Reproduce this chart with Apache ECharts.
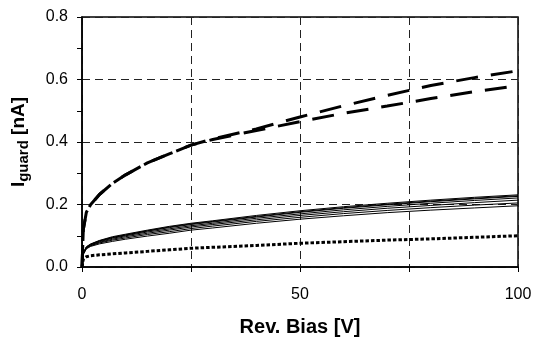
<!DOCTYPE html>
<html>
<head>
<meta charset="utf-8">
<script src="https://cdn.jsdelivr.net/npm/echarts@6/dist/echarts.min.js"></script>
<style>html,body{margin:0;padding:0;background:#fff;}#c{width:534px;height:339px;}</style>
</head>
<body>
<div id="c"></div>
<script>
// Reverse bias voltage samples [V]
var bias = [0, 0.3, 1, 2, 4, 7, 10, 15, 20, 25, 30, 40, 50, 60, 70, 80, 90, 100];
// Dashed (upper) curves [nA]
var dashedA = [0, 0.12, 0.175, 0.2, 0.232, 0.268, 0.295, 0.333, 0.362, 0.39, 0.41, 0.442, 0.48, 0.516, 0.549, 0.581, 0.606, 0.628];
var dashedB = [0, 0.12, 0.175, 0.2, 0.232, 0.268, 0.295, 0.333, 0.362, 0.39, 0.408, 0.437, 0.465, 0.492, 0.515, 0.539, 0.561, 0.58];
// Solid cluster [nA]
var solid1 = [0, 0.045, 0.065, 0.074, 0.085, 0.097, 0.105, 0.118, 0.13, 0.14, 0.148, 0.165, 0.18, 0.193, 0.204, 0.214, 0.223, 0.231];
var solid2 = [0, 0.044, 0.064, 0.073, 0.084, 0.095, 0.103, 0.116, 0.128, 0.138, 0.146, 0.162, 0.177, 0.19, 0.201, 0.211, 0.22, 0.228];
var solid3 = [0, 0.044, 0.063, 0.072, 0.083, 0.094, 0.102, 0.115, 0.126, 0.136, 0.144, 0.16, 0.175, 0.188, 0.199, 0.209, 0.218, 0.226];
var solid4 = [0, 0.043, 0.062, 0.071, 0.081, 0.092, 0.1, 0.112, 0.122, 0.132, 0.14, 0.156, 0.17, 0.183, 0.194, 0.204, 0.213, 0.221];
var solid5 = [0, 0.042, 0.061, 0.069, 0.079, 0.089, 0.097, 0.108, 0.118, 0.128, 0.136, 0.151, 0.165, 0.177, 0.188, 0.197, 0.206, 0.214];
var solid6 = [0, 0.041, 0.06, 0.068, 0.077, 0.086, 0.093, 0.104, 0.113, 0.123, 0.131, 0.146, 0.159, 0.171, 0.181, 0.19, 0.198, 0.205];
var solid7 = [0, 0.04, 0.058, 0.066, 0.074, 0.082, 0.089, 0.099, 0.108, 0.118, 0.125, 0.14, 0.153, 0.164, 0.174, 0.182, 0.189, 0.196];
// Dotted (lowest) curve [nA]
var dotted = [0, 0.025, 0.033, 0.036, 0.039, 0.042, 0.045, 0.05, 0.055, 0.06, 0.063, 0.069, 0.076, 0.081, 0.086, 0.09, 0.095, 0.1];

var xLabels = [0, 50, 100];

function pairs(ys) { return bias.map(function (x, i) { return [x, ys[i]]; }); }

var FONT = '"Liberation Sans", Arial, sans-serif';
var series = [];
function line(ys, style, z) {
  return { type: 'line', data: pairs(ys), symbol: 'none', lineStyle: style, z: z };
}
series.push(line(dotted, { color: '#000', width: 3, type: [3.5, 2] }, 3));
[solid7, solid6, solid5, solid4, solid3, solid2, solid1].forEach(function (s) {
  series.push(line(s, { color: '#000', width: 1 }, 3));
});
series.push(line(dashedB, { color: '#000', width: 3, type: [22, 13], dashOffset: 9 }, 4));
series.push(line(dashedA, { color: '#000', width: 3, type: [22, 13] }, 4));

var chart = echarts.init(document.getElementById('c'));
chart.setOption({
  animation: false,
  backgroundColor: '#fff',
  grid: { left: 82, right: 16, top: 17, bottom: 72, outerBoundsMode: 'none', containLabel: false,
    show: true, borderColor: '#000', borderWidth: 1.5, backgroundColor: 'transparent' },
  xAxis: {
    type: 'value', min: 0, max: 100, interval: 25,
    name: 'Rev. Bias [V]', nameLocation: 'middle', nameGap: 50,
    nameTextStyle: { fontFamily: FONT, fontSize: 20, fontWeight: 'bold', color: '#000' },
    axisLine: { show: true, onZero: false, lineStyle: { color: '#000', width: 1.5 } },
    axisTick: { show: true, inside: false, length: 5, lineStyle: { color: '#000', width: 1 } },
    axisLabel: { fontFamily: FONT, fontSize: 16, color: '#000', margin: 20,
      formatter: function (v) { return xLabels.indexOf(v) >= 0 ? String(v) : ''; } },
    splitLine: { show: true, lineStyle: { color: '#222', width: 1, type: [8, 5] } }
  },
  yAxis: {
    type: 'value', min: 0, max: 0.8, interval: 0.2,
    name: '{m|I}{s|guard}{m| [nA]}', nameLocation: 'middle', nameGap: 54,
    nameTextStyle: { fontFamily: FONT, color: '#000',
      rich: {
        m: { fontFamily: FONT, fontSize: 19, fontWeight: 'bold', color: '#000', lineHeight: 22, verticalAlign: 'bottom' },
        s: { fontFamily: FONT, fontSize: 15, fontWeight: 'bold', color: '#000', lineHeight: 16, verticalAlign: 'bottom', padding: [0, 0, -3, 0] }
      } },
    axisLine: { show: true, onZero: false, lineStyle: { color: '#000', width: 1.5 } },
    axisTick: { show: true, inside: false, length: 5, lineStyle: { color: '#000', width: 1 } },
    minorTick: { show: true, splitNumber: 2, length: 5, lineStyle: { color: '#000', width: 1 } },
    axisLabel: { fontFamily: FONT, fontSize: 16, color: '#000', margin: 14,
      formatter: function (v) { return v.toFixed(1); } },
    splitLine: { show: true, lineStyle: { color: '#222', width: 1, type: [8, 5] } }
  },
  series: series
});
</script>
</body>
</html>
